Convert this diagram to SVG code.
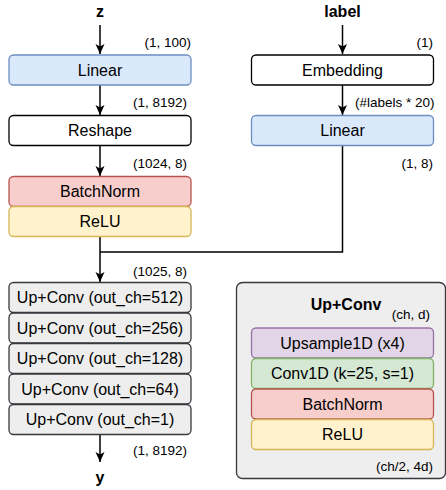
<svg xmlns="http://www.w3.org/2000/svg" width="446" height="490" viewBox="0 0 446 490">
<style>
.t{font-family:"Liberation Sans",Arial,sans-serif;font-size:16px;fill:#000;text-anchor:middle}
.b{font-weight:bold}
.s{font-family:"Liberation Sans",Arial,sans-serif;font-size:13.5px;fill:#000;text-anchor:end}
.box{stroke-width:1.3}
.blue{fill:#dae8fc;stroke:#6c8ebf}
.white{fill:#fff;stroke:#000}
.red{fill:#f8cecc;stroke:#b85450}
.yel{fill:#fff2cc;stroke:#d6b656}
.pur{fill:#e1d5e7;stroke:#9673a6}
.grn{fill:#d5e8d4;stroke:#82b366}
.gry{fill:#eeeeee;stroke:#36393d}
.ln{fill:none;stroke:#000;stroke-width:1.5}
</style>
<defs>
<marker id="ar" markerUnits="userSpaceOnUse" markerWidth="10" markerHeight="10" viewBox="0 0 10 10" refX="10" refY="5" orient="auto">
<path d="M0,0.5 L10,5 L0,9.5 L2.5,5 z" fill="#000"/>
</marker>
</defs>
<g id="connectors">
<path class="ln" d="M100 25 V54" marker-end="url(#ar)"/>
<path class="ln" d="M100 85 V115" marker-end="url(#ar)"/>
<path class="ln" d="M100 146 V176" marker-end="url(#ar)"/>
<path class="ln" d="M100 236 V282" marker-end="url(#ar)"/>
<path class="ln" d="M342.5 25 V54" marker-end="url(#ar)"/>
<path class="ln" d="M342.5 85 V115" marker-end="url(#ar)"/>
<path class="ln" d="M342.5 146 V252 H100"/>
<path class="ln" d="M100 434 V462" marker-end="url(#ar)"/>
</g>
<g id="labels">
<text class="s" x="191" y="46.5">(1, 100)</text>
<text class="s" x="187" y="106.5">(1, 8192)</text>
<text class="s" x="187" y="167.5">(1024, 8)</text>
<text class="s" x="433" y="46.5">(1)</text>
<text class="s" x="434.5" y="106.5">(#labels * 20)</text>
<text class="s" x="433" y="167.5">(1, 8)</text>
<text class="s" x="187" y="275.5">(1025, 8)</text>
<text class="s" x="187" y="454.5">(1, 8192)</text>
</g>
<g id="z"><text class="t b" x="100" y="16.5">z</text></g>
<g id="label"><text class="t b" x="342.5" y="16.5">label</text></g>
<g id="y"><text class="t b" x="100" y="483">y</text></g>
<g id="linear1"><rect class="box blue" x="9" y="55" width="182" height="30" rx="4.5"/><text class="t" x="100" y="75.5">Linear</text></g>
<g id="reshape"><rect class="box white" x="9" y="115.5" width="182" height="30" rx="4.5"/><text class="t" x="100" y="136">Reshape</text></g>
<g id="batchnorm1"><rect class="box red" x="9" y="176.5" width="182" height="30" rx="4.5"/><text class="t" x="100" y="197">BatchNorm</text></g>
<g id="relu1"><rect class="box yel" x="9" y="206.5" width="182" height="30" rx="4.5"/><text class="t" x="100" y="227">ReLU</text></g>
<g id="embedding"><rect class="box white" x="251.5" y="55" width="182" height="30" rx="4.5"/><text class="t" x="342.5" y="75.5">Embedding</text></g>
<g id="linear2"><rect class="box blue" x="251.5" y="115.5" width="182" height="30" rx="4.5"/><text class="t" x="342.5" y="136">Linear</text></g>
<g id="upconv512"><rect class="box gry" x="9" y="282.5" width="182" height="30" rx="4.5"/><text class="t" x="100" y="303">Up+Conv (out_ch=512)</text></g>
<g id="upconv256"><rect class="box gry" x="9" y="313" width="182" height="30" rx="4.5"/><text class="t" x="100" y="333.5">Up+Conv (out_ch=256)</text></g>
<g id="upconv128"><rect class="box gry" x="9" y="343.5" width="182" height="30" rx="4.5"/><text class="t" x="100" y="364">Up+Conv (out_ch=128)</text></g>
<g id="upconv64"><rect class="box gry" x="9" y="374" width="182" height="30" rx="4.5"/><text class="t" x="100" y="394.5">Up+Conv (out_ch=64)</text></g>
<g id="upconv1"><rect class="box gry" x="9" y="404.5" width="182" height="30" rx="4.5"/><text class="t" x="100" y="425">Up+Conv (out_ch=1)</text></g>
<g id="legend">
<rect class="box gry" x="236.5" y="282.5" width="209" height="196" rx="6"/>
<text class="t b" x="346" y="310">Up+Conv</text>
<text class="s" x="430" y="319">(ch, d)</text>
<text class="s" x="433" y="471">(ch/2, 4d)</text>
</g>
<g id="upsample"><rect class="box pur" x="251.5" y="328" width="182" height="30" rx="4.5"/><text class="t" x="342.5" y="348.5">Upsample1D (x4)</text></g>
<g id="conv1d"><rect class="box grn" x="251.5" y="358.5" width="182" height="30" rx="4.5"/><text class="t" x="342.5" y="379">Conv1D (k=25, s=1)</text></g>
<g id="batchnorm2"><rect class="box red" x="251.5" y="389" width="182" height="30" rx="4.5"/><text class="t" x="342.5" y="409.5">BatchNorm</text></g>
<g id="relu2"><rect class="box yel" x="251.5" y="419.5" width="182" height="30" rx="4.5"/><text class="t" x="342.5" y="440">ReLU</text></g>
</svg>
